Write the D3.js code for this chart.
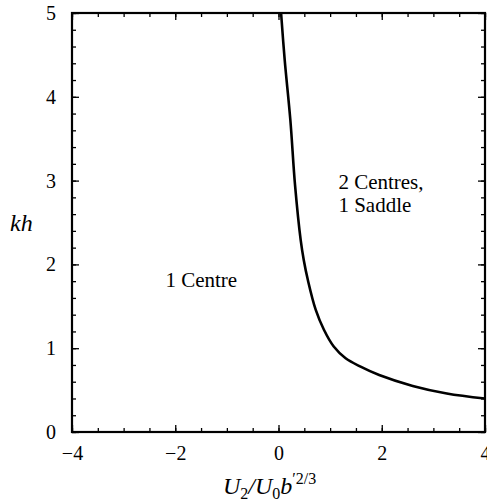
<!DOCTYPE html>
<html>
<head>
<meta charset="utf-8">
<script src="https://cdn.jsdelivr.net/npm/d3@7"></script>
<style>
  body { margin: 0; background: #fff; }
  svg { display: block; }
</style>
</head>
<body>
<svg id="chart" width="487" height="504"></svg>
<script>
// values
const xMajor = [-4, -2, 0, 2, 4];
const yMajor = [0, 1, 2, 3, 4, 5];
const curveU = [0.05, 0.12, 0.23, 0.32, 0.43, 0.49, 0.57, 0.72, 0.88, 1.07, 1.3, 1.59, 1.95, 2.6, 3.26, 4.0];
const curveKh = [5.0, 4.44, 3.72, 2.95, 2.29, 2.05, 1.81, 1.46, 1.22, 1.02, 0.88, 0.78, 0.68, 0.55, 0.46, 0.40];
const regionLabels = [
  { lines: ["1 Centre"], u: -2.19, kh: 1.73 },
  { lines: ["2 Centres,", "1 Saddle"], u: 1.16, kh: 2.9 }
];

const serif = "'Liberation Serif', 'DejaVu Serif', 'Times New Roman', Times, serif";

var svg = d3.select("#chart");

var x = d3.scaleLinear().domain([-4, 4]).range([72, 485]),
    y = d3.scaleLinear().domain([0, 5]).range([432, 13]);

var xMinor = d3.range(-4, 4.001, 0.5),
    yMinor = d3.range(0, 5.001, 0.2);

//minor ticks on all four sides, pointing inward
const minorAxis = function(axis, values, size) {
  return axis.tickValues(values).tickSize(-size).tickFormat("");
}

svg.append("g").attr("transform", "translate(0," + y(0) + ")")
  .call(minorAxis(d3.axisBottom(x), xMinor, 4));
svg.append("g").attr("transform", "translate(0," + y(5) + ")")
  .call(minorAxis(d3.axisTop(x), xMinor, 4));
svg.append("g").attr("transform", "translate(" + x(-4) + ",0)")
  .call(minorAxis(d3.axisLeft(y), yMinor, 4));
svg.append("g").attr("transform", "translate(" + x(4) + ",0)")
  .call(minorAxis(d3.axisRight(y), yMinor, 4));

//major ticks with labels
svg.append("g").attr("class", "major").attr("transform", "translate(0," + y(0) + ")")
  .call(d3.axisBottom(x).tickValues(xMajor).tickSize(-7).tickPadding(14).tickFormat(d3.format("d")));
svg.append("g").attr("class", "major").attr("transform", "translate(0," + y(5) + ")")
  .call(d3.axisTop(x).tickValues(xMajor).tickSize(-7).tickFormat(""));
svg.append("g").attr("class", "major").attr("transform", "translate(" + x(-4) + ",0)")
  .call(d3.axisLeft(y).tickValues(yMajor).tickSize(-7).tickPadding(16).tickFormat(d3.format("d")));
svg.append("g").attr("class", "major").attr("transform", "translate(" + x(4) + ",0)")
  .call(d3.axisRight(y).tickValues(yMajor).tickSize(-7).tickFormat(""));

svg.selectAll("g").attr("font-family", null);
svg.selectAll(".domain").remove();
svg.selectAll(".tick line").attr("stroke", "#000").attr("stroke-width", 1.3);
svg.selectAll(".major text")
  .attr("font-size", 20)
  .attr("fill", "#000");

//frame
svg.append("rect")
  .attr("x", x(-4)).attr("y", y(5))
  .attr("width", x(4) - x(-4)).attr("height", y(0) - y(5))
  .attr("fill", "none").attr("stroke", "#000").attr("stroke-width", 2.2);

//boundary curve
var pts = curveU.map((u, i) => [u, curveKh[i]]);
svg.append("path")
  .datum(pts)
  .attr("d", d3.line().x(d => x(d[0])).y(d => y(d[1])).curve(d3.curveCatmullRom.alpha(0.5)))
  .attr("fill", "none")
  .attr("stroke", "#000")
  .attr("stroke-width", 2.6);

//region labels
regionLabels.forEach(item => {
  var t = svg.append("text")
    .attr("x", x(item.u)).attr("y", y(item.kh))
    .attr("font-size", 21).attr("fill", "#000");
  item.lines.forEach((line, i) => {
    t.append("tspan").attr("x", x(item.u)).attr("dy", i == 0 ? 0 : 23).text(line);
  });
});

//axis titles
var xt = svg.append("text")
  .attr("x", 223).attr("y", 494)
  .attr("font-size", 24).attr("font-style", "italic").attr("fill", "#000");
xt.append("tspan").text("U");
xt.append("tspan").attr("font-size", 16).attr("font-style", "normal").attr("dy", 5).text("2");
xt.append("tspan").attr("dy", -5).text("/");
xt.append("tspan").text("U");
xt.append("tspan").attr("font-size", 16).attr("font-style", "normal").attr("dy", 5).text("0");
xt.append("tspan").attr("dy", -5).text("b");
xt.append("tspan").attr("font-size", 16).attr("font-style", "normal").attr("dy", -10).text("′2/3");

svg.append("text")
  .attr("x", 10).attr("y", 231)
  .attr("font-size", 24).attr("font-style", "italic").attr("fill", "#000")
  .text("kh");

svg.selectAll("text").style("font-family", serif);
</script>
</body>
</html>
